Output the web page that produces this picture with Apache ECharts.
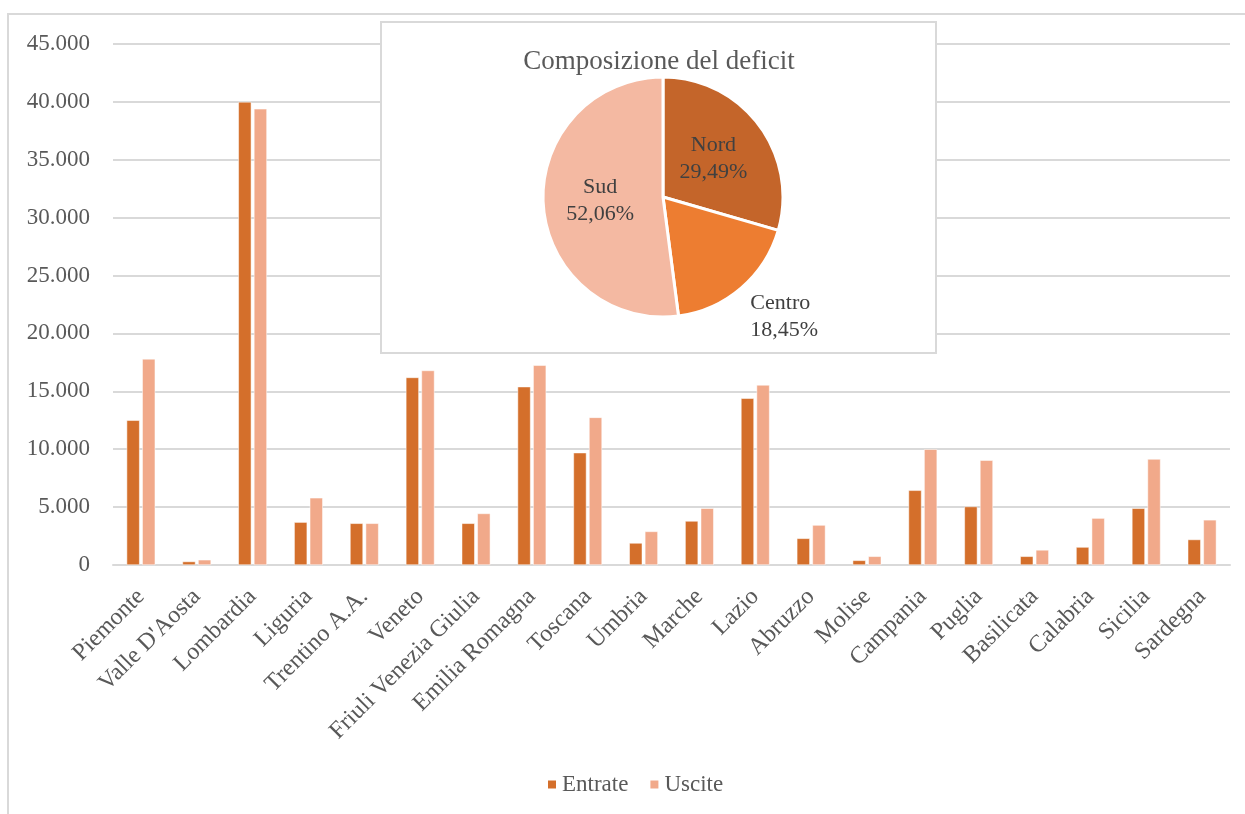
<!DOCTYPE html>
<html>
<head>
<meta charset="utf-8">
<script src="https://cdn.jsdelivr.net/npm/echarts@6/dist/echarts.min.js"></script>
<style>
html,body{margin:0;padding:0;background:#fff;}
#c{width:1245px;height:814px;}
</style>
</head>
<body>
<div id="c"></div>
<script>
var regions = ['Piemonte','Valle D\'Aosta','Lombardia','Liguria','Trentino A.A.','Veneto','Friuli Venezia Giulia','Emilia Romagna','Toscana','Umbria','Marche','Lazio','Abruzzo','Molise','Campania','Puglia','Basilicata','Calabria','Sicilia','Sardegna'];
var entrate = [12500, 300, 40000, 3700, 3600, 16200, 3600, 15400, 9700, 1900, 3800, 14400, 2300, 400, 6450, 5050, 750, 1550, 4900, 2200];
var uscite  = [17800, 450, 39400, 5800, 3600, 16800, 4450, 17250, 12750, 2900, 4900, 15550, 3450, 750, 10000, 9050, 1300, 4050, 9150, 3900];
var pieNames = ['Nord','Centro','Sud'];
var pieValues = [29.49, 18.45, 52.06];
var pieTitle = 'Composizione del deficit';
var seriesNames = ['Entrate','Uscite'];

var FONT = '"Liberation Serif", "Times New Roman", serif';
var TXT = '#595959';
var chart = echarts.init(document.getElementById('c'));

function fmt(v){ return String(v).replace(/\B(?=(\d{3})+(?!\d))/g, '.'); }

var pieColors = ['#C4652A','#ED7D31','#F4B9A2'];
var pieData = pieNames.map(function(n,i){
  var d = {name:n, value:pieValues[i], itemStyle:{color:pieColors[i]}};
  if (n === 'Centro') {
    d.label = {position:'outside', align:'center', distanceToLabelLine:0};
    d.labelLine = {show:false, length:28, length2:0};
  }
  return d;
});

chart.setOption({
  animation:false,
  textStyle:{fontFamily:FONT},
  graphic:[
    {type:'rect', shape:{x:8,y:14,width:1400,height:900}, style:{fill:'none', stroke:'#d9d9d9', lineWidth:2}, z:-10, silent:true},
    {type:'rect', shape:{x:381,y:22,width:555,height:331}, style:{fill:'#fff', stroke:'#d9d9d9', lineWidth:2}, z:5, silent:true}
  ],
  title:{text:pieTitle, left:654, top:43, textAlign:'center', textStyle:{fontFamily:FONT, fontSize:27, fontWeight:'normal', color:TXT}, z:20},
  legend:{
    data:seriesNames, bottom:13, left:541, itemWidth:10, itemHeight:10, icon:'rect', itemGap:20,
    textStyle:{fontFamily:FONT, fontSize:23, color:TXT}
  },
  grid:{left:113, right:15, top:44, bottom:249, containLabel:false},
  xAxis:{
    type:'category', data:regions,
    axisLine:{lineStyle:{color:'#d9d9d9', width:2}},
    axisTick:{show:false},
    axisLabel:{rotate:45, interval:0, margin:28, fontFamily:FONT, fontSize:24, color:TXT}
  },
  yAxis:{
    type:'value', min:0, max:45000, interval:5000,
    axisLine:{show:false}, axisTick:{show:false},
    splitLine:{lineStyle:{color:'#d9d9d9', width:2}},
    axisLabel:{formatter:fmt, margin:23, fontFamily:FONT, fontSize:23, color:TXT}
  },
  series:[
    {name:seriesNames[0], type:'bar', data:entrate, barWidth:13, barGap:'20%', itemStyle:{color:'#D46F2B', borderColor:'#fff', borderWidth:0.5}},
    {name:seriesNames[1], type:'bar', data:uscite, barWidth:13, barGap:'20%', itemStyle:{color:'#F1A98A', borderColor:'#fff', borderWidth:0.5}},
    {
      type:'pie', center:[663,197], radius:[0,120], startAngle:90, clockwise:true, z:10,
      itemStyle:{borderColor:'#fff', borderWidth:3},
      label:{position:'inside', formatter:function(p){return p.name+'\n'+p.value.toFixed(2).replace('.',',')+'%';}, fontFamily:FONT, fontSize:22, color:'#404040', lineHeight:27},
      labelLine:{show:false},
      labelLayout:function(p){ return p.dataIndex === 1 ? {dx:-9, dy:7} : {}; },
      emphasis:{disabled:true},
      data:pieData
    }
  ]
});
</script>
</body>
</html>
